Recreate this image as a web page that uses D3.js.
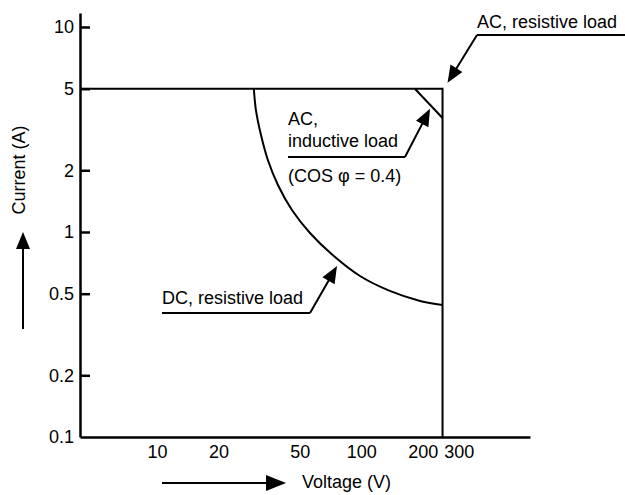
<!DOCTYPE html>
<html>
<head>
<meta charset="utf-8">
<script src="https://cdn.jsdelivr.net/npm/d3@7"></script>
<style>
  html, body { margin: 0; padding: 0; background: #fff; }
  svg { display: block; }
  text { font-family: "Liberation Sans", Arial, Helvetica, sans-serif; fill: #000; }
</style>
</head>
<body>
<svg id="chart" width="625" height="495"></svg>
<script>
// ---- data ----
const xTicks = [10, 20, 50, 100, 200, 300];          // Voltage (V)
const yTicks = [0.1, 0.2, 0.5, 1, 2, 5, 10];         // Current (A)
const xExtent = [4.2, 670];                           // axis span (V)
const yExtent = [0.1, 11.7];                          // axis span (A)

// AC, resistive load boundary
const acResV = [4.2, 250, 250];
const acResI = [5, 5, 0.1];
// AC, inductive load (cos φ = 0.4)
const acIndV = [183, 250];
const acIndI = [5, 3.6];
// DC, resistive load
const dcV = [29.8, 30.5, 32.3, 34.9, 39.1, 45.8, 56.1, 72.7, 98.6, 138, 194, 250];
const dcI = [5, 3.94, 2.97, 2.245, 1.696, 1.28, 0.989, 0.77, 0.61, 0.516, 0.461, 0.44];

const labels = {
  xTitle: "Voltage (V)",
  yTitle: "Current (A)",
  acRes: "AC, resistive load",
  acInd1: "AC,",
  acInd2: "inductive load",
  acInd3: "(COS φ = 0.4)",
  dcRes: "DC, resistive load"
};

// ---- drawing ----
const svg = d3.select("#chart");
const FS = 18;

const x = d3.scaleLog().domain(xExtent).range([80, 530]);
const y = d3.scaleLog().domain(yExtent).range([437, 13]);

// y axis: ticks inward, labels left
const yAxis = d3.axisLeft(y)
  .tickValues(yTicks)
  .tickSizeInner(-10)
  .tickSizeOuter(0)
  .tickPadding(6)
  .tickFormat(d3.format("~g"));
const gy = svg.append("g").attr("transform", `translate(${x(xExtent[0])},0)`).call(yAxis);
gy.select(".domain").attr("stroke", "#000").attr("stroke-width", 2.5);
gy.selectAll(".tick line").attr("stroke", "#000").attr("stroke-width", 2.5)
  .attr("display", d => d === yExtent[0] ? "none" : null);
gy.selectAll(".tick text").attr("font-size", FS).attr("fill", "#000")
  .style("font-family", "'Liberation Sans', Arial, sans-serif");

// x axis: no tick marks
const xAxis = d3.axisBottom(x)
  .tickValues(xTicks)
  .tickSize(0)
  .tickPadding(8)
  .tickFormat(d3.format("~g"));
const gx = svg.append("g").attr("transform", `translate(0,${y(yExtent[0])})`).call(xAxis);
gx.select(".domain").attr("stroke", "#000").attr("stroke-width", 2.5);
gx.selectAll(".tick text").attr("font-size", FS).attr("fill", "#000")
  .style("font-family", "'Liberation Sans', Arial, sans-serif");

// series lines
const line = d3.line().x(d => x(d[0])).y(d => y(d[1]));
const lineCurve = d3.line().x(d => x(d[0])).y(d => y(d[1])).curve(d3.curveCatmullRom.alpha(0.5));

svg.append("path").datum(d3.zip(acResV, acResI)).attr("d", line)
  .attr("fill", "none").attr("stroke", "#000").attr("stroke-width", 2);
svg.append("path").datum(d3.zip(acIndV, acIndI)).attr("d", line)
  .attr("fill", "none").attr("stroke", "#000").attr("stroke-width", 2);
svg.append("path").datum(d3.zip(dcV, dcI)).attr("d", lineCurve)
  .attr("fill", "none").attr("stroke", "#000").attr("stroke-width", 2);

// arrow helper
function arrow(x1, y1, x2, y2, len, halfW, sw) {
  const dx = x2 - x1, dy = y2 - y1, L = Math.hypot(dx, dy);
  const ux = dx / L, uy = dy / L;
  const bx = x2 - ux * len, by = y2 - uy * len;
  svg.append("line").attr("x1", x1).attr("y1", y1).attr("x2", bx + ux * 2).attr("y2", by + uy * 2)
    .attr("stroke", "#000").attr("stroke-width", sw);
  svg.append("path")
    .attr("d", `M${x2},${y2}L${bx - uy * halfW},${by + ux * halfW}L${bx + uy * halfW},${by - ux * halfW}Z`)
    .attr("fill", "#000");
}
function seg(x1, y1, x2, y2) {
  svg.append("line").attr("x1", x1).attr("y1", y1).attr("x2", x2).attr("y2", y2)
    .attr("stroke", "#000").attr("stroke-width", 2);
}
function txt(s, tx, ty, anchor) {
  return svg.append("text").attr("x", tx).attr("y", ty).attr("font-size", FS)
    .attr("text-anchor", anchor || "start").text(s);
}

// AC resistive annotation
txt(labels.acRes, 477, 28);
seg(477, 35, 625, 35);
arrow(477, 35, x(250) + 5, y(5) - 6, 17, 7, 2);

// AC inductive annotation
txt(labels.acInd1, 288, 125);
txt(labels.acInd2, 288, 147);
seg(288, 157, 405, 157);
const tInd = 0.62;
const indTipX = x(acIndV[0]) + (x(acIndV[1]) - x(acIndV[0])) * tInd - 2;
const indTipY = y(acIndI[0]) + (y(acIndI[1]) - y(acIndI[0])) * tInd + 2;
arrow(405, 157, indTipX, indTipY, 17, 7, 2);
txt(labels.acInd3, 288, 182);

// DC resistive annotation
txt(labels.dcRes, 162, 304);
seg(162, 313, 310, 313);
arrow(310, 313, 337, 266, 17, 7, 2);

// axis titles with arrows
svg.append("text").attr("transform", "translate(25,170) rotate(-90)")
  .attr("font-size", FS).attr("text-anchor", "middle").text(labels.yTitle);
arrow(23, 329, 23, 232, 17, 7, 2);

txt(labels.xTitle, 302, 488);
arrow(162, 483, 286, 483, 20, 8, 2);
</script>
</body>
</html>
